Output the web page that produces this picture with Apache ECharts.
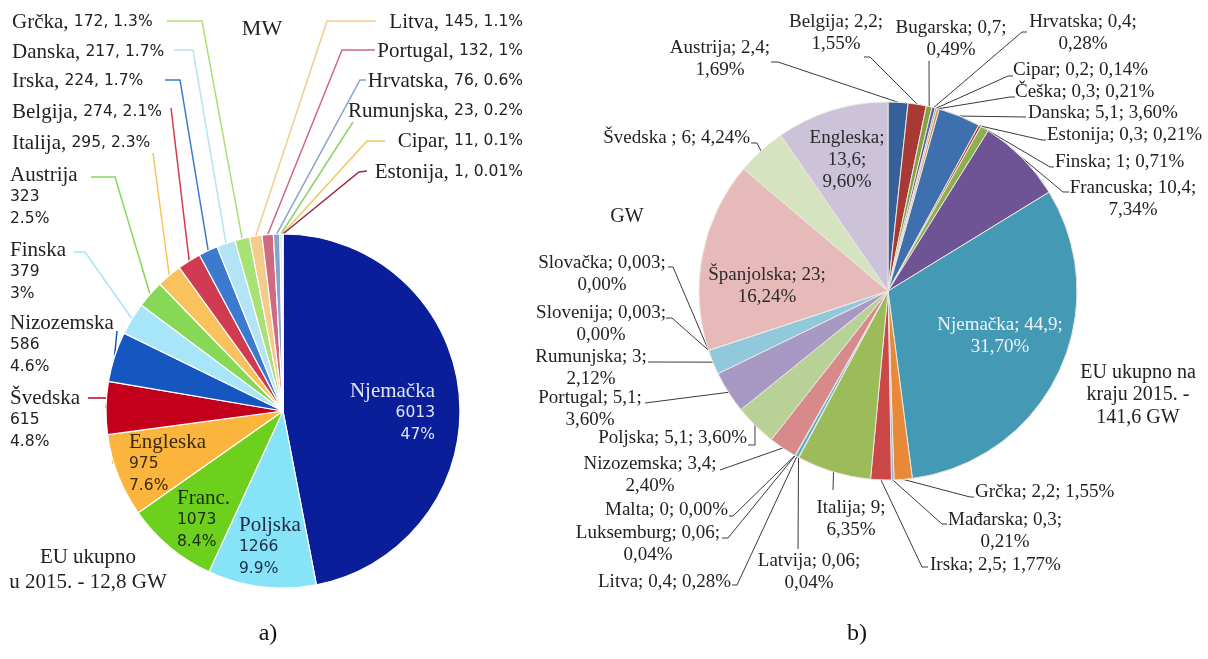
<!DOCTYPE html>
<html>
<head>
<meta charset="utf-8">
<style>
  html, body { margin: 0; padding: 0; background: #fff; }
  #chart { width: 1208px; height: 659px; }
</style>
<script src="https://cdn.jsdelivr.net/npm/echarts@6/dist/echarts.min.js"></script>
</head>
<body>
<div id="chart"></div>
<script>
// a) instalirano u 2015., MW
const mwNames = ['Njemačka', 'Poljska', 'Franc.', 'Engleska', 'Švedska', 'Nizozemska', 'Finska', 'Austrija', 'Italija',
  'Belgija', 'Irska', 'Danska', 'Grčka', 'Litva', 'Portugal', 'Hrvatska', 'Rumunjska', 'Cipar', 'Estonija'];
const mwValues = [6013, 1266, 1073, 975, 615, 586, 379, 323, 295, 274, 224, 217, 172, 145, 132, 76, 23, 11, 1];
const mwPercents = ['47%', '9.9%', '8.4%', '7.6%', '4.8%', '4.6%', '3%', '2.5%', '2.3%', '2.1%', '1.7%', '1.7%', '1.3%',
  '1.1%', '1%', '0.6%', '0.2%', '0.1%', '0.01%'];

// b) ukupno na kraju 2015., GW
const gwNames = ['Austrija', 'Belgija', 'Bugarska', 'Hrvatska', 'Cipar', 'Češka', 'Danska', 'Estonija', 'Finska', 'Francuska',
  'Njemačka', 'Grčka', 'Mađarska', 'Irska', 'Italija', 'Latvija', 'Litva', 'Luksemburg', 'Malta', 'Nizozemska', 'Poljska',
  'Portugal', 'Rumunjska', 'Slovačka', 'Slovenija', 'Španjolska', 'Švedska ', 'Engleska'];
const gwValues = [2.4, 2.2, 0.7, 0.4, 0.2, 0.3, 5.1, 0.3, 1, 10.4, 44.9, 2.2, 0.3, 2.5, 9, 0.06, 0.4, 0.06, 0, 3.4, 5.1,
  5.1, 3, 0.003, 0.003, 23, 6, 13.6];

const mwColors = ['#0a1e99', '#86e3f8', '#6dd01c', '#fbb43c', '#c2001c', '#1656c0', '#a6e6f8', '#86d856', '#f9c25c',
  '#cf3c52', '#3c7ad0', '#b2e4f6', '#a9e274', '#f4cb8a', '#cf6a80', '#8ba2cb', '#8ed26a', '#f0c860', '#9c2a3a'];
const gwColors = ['#34619a', '#a83a36', '#80a444', '#6a5898', '#3f9ab8', '#e68c3c', '#3e70b0', '#b84444', '#8cb050',
  '#6e5494', '#4499b4', '#e8893a', '#98aed4', '#cc4848', '#9cbc5a', '#7f67a0', '#4cb0ca', '#f79646', '#4f81bd',
  '#d88a8a', '#b8d196', '#a898c4', '#90c8dc', '#f8c0a0', '#a0b8d8', '#e7baba', '#d6e3c0', '#ccc2da'];

// where the labels go (x, y, align) and the leader line after the slice edge
const mwLayout = [
  { x: 435, y: 413, align: 'right', inside: true, stack: true, color: '#dfe5f5' },
  { x: 239, y: 547, align: 'left', inside: true, stack: true, color: '#1c2c44' },
  { x: 177, y: 520, align: 'left', inside: true, stack: true, color: '#1c2c10' },
  { x: 129, y: 464, align: 'left', inside: true, stack: true, color: '#3a2a10' },
  { x: 10, y: 420, align: 'left', stack: true, line: [[107, 398], [88, 398]] },
  { x: 10, y: 345, align: 'left', stack: true, line: [[117, 331]] },
  { x: 10, y: 272, align: 'left', stack: true, line: [[85, 252], [74, 252]] },
  { x: 10, y: 197, align: 'left', stack: true, line: [[115, 177], [91, 177]] },
  { x: 12, y: 143, align: 'left', line: [[153, 153]] },
  { x: 12, y: 112, align: 'left', line: [[171, 108]] },
  { x: 12, y: 81, align: 'left', line: [[180, 80], [165, 80]] },
  { x: 12, y: 52, align: 'left', line: [[193, 50], [174, 50]] },
  { x: 12, y: 22, align: 'left', line: [[202, 21], [167, 21]] },
  { x: 523, y: 22, align: 'right', line: [[327, 21], [376, 21]] },
  { x: 523, y: 51, align: 'right', line: [[342, 50], [375, 50]] },
  { x: 523, y: 81, align: 'right', line: [[360, 80], [366, 80]] },
  { x: 523, y: 111, align: 'right', line: [[353, 122]] },
  { x: 523, y: 141, align: 'right', line: [[367, 141], [385, 141]] },
  { x: 523, y: 172, align: 'right', line: [[359, 172], [367, 171]] }
];

// mode: 0 = one line, 1 = break before percent, 2 = break after name and value
const gwLayout = [
  { x: 720, y: 59, align: 'center', mode: 1, line: [[778, 62], [771, 62]] },
  { x: 836, y: 33, align: 'center', mode: 1, line: [[870, 57], [864, 57]] },
  { x: 951, y: 39, align: 'center', mode: 1, line: [[929, 61]] },
  { x: 1083, y: 33, align: 'center', mode: 1, line: [[1022, 32], [1027, 32]] },
  { x: 1013, y: 70, align: 'left', mode: 0, line: [[1008, 76], [1013, 76]] },
  { x: 1015, y: 92, align: 'left', mode: 0, line: [[1010, 97], [1015, 97]] },
  { x: 1028, y: 113, align: 'left', mode: 0, line: [[1026, 117]] },
  { x: 1047, y: 135, align: 'left', mode: 0, line: [[1042, 140], [1046, 140]] },
  { x: 1055, y: 162, align: 'left', mode: 0, line: [[1050, 167], [1054, 167]] },
  { x: 1133, y: 199, align: 'center', mode: 1, line: [[1063, 192], [1069, 192]] },
  { x: 1000, y: 336, align: 'center', mode: 1, inside: true, color: '#eef4f8' },
  { x: 975, y: 492, align: 'left', mode: 0, line: [[970, 497], [974, 497]] },
  { x: 1005, y: 531, align: 'center', mode: 1, line: [[942, 524], [947, 524]] },
  { x: 930, y: 565, align: 'left', mode: 0, line: [[922, 567], [928, 567]] },
  { x: 851, y: 519, align: 'center', mode: 1, line: [[833, 490]] },
  { x: 809, y: 572, align: 'center', mode: 1, line: [[798, 549]] },
  { x: 731, y: 582, align: 'right', mode: 0, line: [[737, 585], [732, 585]] },
  { x: 648, y: 544, align: 'center', mode: 1, line: [[728, 538], [722, 538]] },
  { x: 728, y: 510, align: 'right', mode: 0, line: [[733, 516], [729, 516]] },
  { x: 650, y: 475, align: 'center', mode: 1, line: [[720, 470]] },
  { x: 747, y: 438, align: 'right', mode: 0, line: [[755, 425], [755, 445], [748, 445]] },
  { x: 590, y: 409, align: 'center', mode: 1, line: [[645, 403]] },
  { x: 591, y: 368, align: 'center', mode: 1, line: [[648, 362]] },
  { x: 602, y: 274, align: 'center', mode: 1, line: [[673, 267], [668, 267]] },
  { x: 601, y: 324, align: 'center', mode: 1, line: [[672, 318], [666, 318]] },
  { x: 767, y: 286, align: 'center', mode: 1, inside: true },
  { x: 750, y: 138, align: 'right', mode: 0, line: [[757, 143], [751, 143]] },
  { x: 847, y: 160, align: 'center', mode: 2, inside: true }
];

const mwCenter = [283, 411], mwRadius = 177;
const gwCenter = [888, 291], gwRadius = 189;

const serif = 'Liberation Serif';
const gwTotal = gwValues.reduce((a, b) => a + b, 0);

function comma(v) {
  return String(v).replace('.', ',');
}

// point on the outer edge at the middle of a slice (only used if the library gives none)
function edgePoint(values, i, center, r) {
  const total = values.reduce((a, b) => a + b, 0);
  let before = 0;
  for (let k = 0; k < i; k++) before += values[k];
  const a = (before + values[i] / 2) / total * Math.PI * 2;
  return [center[0] + r * Math.sin(a), center[1] - r * Math.cos(a)];
}

function layoutFn(layout, values, center, r) {
  return function (params) {
    const L = layout[params.dataIndex];
    const out = { x: L.x, y: L.y, align: L.align, verticalAlign: 'middle' };
    if (L.line) {
      const start = params.labelLinePoints && params.labelLinePoints.length
        ? params.labelLinePoints[0]
        : edgePoint(values, params.dataIndex, center, r);
      out.labelLinePoints = [start].concat(L.line);
    }
    return out;
  };
}

const mwData = mwNames.map((name, i) => {
  const L = mwLayout[i];
  const item = { name: name, value: mwValues[i], itemStyle: { color: mwColors[i] } };
  if (L.inside) item.label = { position: 'inside', color: L.color };
  return item;
});

const gwData = gwNames.map((name, i) => {
  const L = gwLayout[i];
  const item = { name: name, value: gwValues[i], itemStyle: { color: gwColors[i] } };
  if (L.inside) item.label = { position: 'inside', color: L.color || '#2a2a2a' };
  return item;
});

const chart = echarts.init(document.getElementById('chart'), null, { renderer: 'canvas' });

const option = {
  backgroundColor: '#fff',
  animation: false,
  graphic: [
    { type: 'text', x: 262, y: 29, style: { text: 'MW', font: '22px "Liberation Serif"', fill: '#222', align: 'center', verticalAlign: 'middle' } },
    { type: 'text', x: 88, y: 570, style: { text: 'EU ukupno\nu 2015. - 12,8 GW', font: '21px "Liberation Serif"', lineHeight: 25, fill: '#222', align: 'center', verticalAlign: 'middle' } },
    { type: 'text', x: 627, y: 217, style: { text: 'GW', font: '20px "Liberation Serif"', fill: '#222', align: 'center', verticalAlign: 'middle' } },
    { type: 'text', x: 1138, y: 395, style: { text: 'EU ukupno na\nkraju 2015. -\n141,6 GW', font: '20px "Liberation Serif"', lineHeight: 22.5, fill: '#222', align: 'center', verticalAlign: 'middle' } },
    { type: 'text', x: 268, y: 634, style: { text: 'a)', font: '24px "Liberation Serif"', fill: '#111', align: 'center', verticalAlign: 'middle' } },
    { type: 'text', x: 857, y: 634, style: { text: 'b)', font: '24px "Liberation Serif"', fill: '#111', align: 'center', verticalAlign: 'middle' } }
  ],
  series: [
    {
      name: 'MW',
      type: 'pie',
      center: mwCenter,
      radius: mwRadius,
      startAngle: 90,
      clockwise: true,
      avoidLabelOverlap: false,
      itemStyle: { borderColor: '#ffffff', borderWidth: 1.2 },
      label: {
        show: true,
        position: 'outside',
        color: '#222',
        fontFamily: serif,
        fontSize: 21,
        formatter: function (p) {
          const i = p.dataIndex;
          if (mwLayout[i].stack) {
            return '{n|' + p.name + '}\n{v|' + p.value + '}\n{v|' + mwPercents[i] + '}';
          }
          return '{n|' + p.name + ',} {v|' + p.value + ', ' + mwPercents[i] + '}';
        },
        rich: {
          n: { fontFamily: serif, fontSize: 21, lineHeight: 22 },
          v: { fontFamily: 'DejaVu Sans', fontSize: 15.5, lineHeight: 22 }
        }
      },
      labelLine: { show: true, smooth: false, lineStyle: { width: 1.5 } },
      labelLayout: layoutFn(mwLayout, mwValues, mwCenter, mwRadius),
      emphasis: { disabled: true },
      data: mwData
    },
    {
      name: 'GW',
      type: 'pie',
      center: gwCenter,
      radius: gwRadius,
      startAngle: 90,
      clockwise: true,
      avoidLabelOverlap: false,
      itemStyle: { borderColor: '#ece8e0', borderWidth: 1 },
      label: {
        show: true,
        position: 'outside',
        color: '#222',
        fontFamily: serif,
        fontSize: 19,
        lineHeight: 22,
        formatter: function (p) {
          const i = p.dataIndex;
          const pct = comma((gwValues[i] / gwTotal * 100).toFixed(2)) + '%';
          const mode = gwLayout[i].mode;
          if (mode === 2) return p.name + ';\n' + comma(p.value) + ';\n' + pct;
          if (mode === 1) return p.name + '; ' + comma(p.value) + ';\n' + pct;
          return p.name + '; ' + comma(p.value) + '; ' + pct;
        }
      },
      labelLine: { show: true, smooth: false, lineStyle: { color: '#3a3a3a', width: 1 } },
      labelLayout: layoutFn(gwLayout, gwValues, gwCenter, gwRadius),
      emphasis: { disabled: true },
      data: gwData
    }
  ]
};

chart.setOption(option);
</script>
</body>
</html>
